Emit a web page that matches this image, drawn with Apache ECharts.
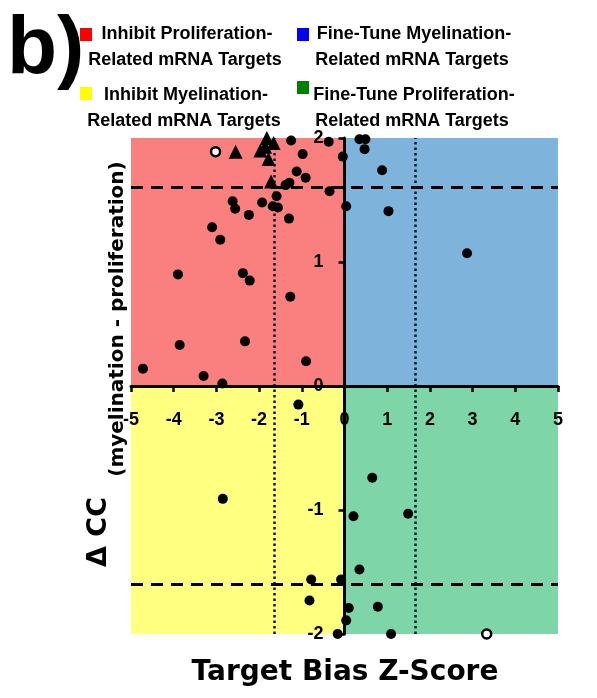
<!DOCTYPE html>
<html>
<head>
<meta charset="utf-8">
<script src="https://cdn.jsdelivr.net/npm/echarts@6/dist/echarts.min.js"></script>
<style>
  html, body { margin: 0; padding: 0; background: #ffffff; }
  #chart { width: 597px; height: 698px; }
</style>
</head>
<body>
<div id="chart"></div>
<script>
// Target bias Z-score (x) versus change in correlation coefficient (y)
const filledTargets = [
  [-1.25, 1.98], [-0.37, 1.97], [-0.04, 1.85], [-0.98, 1.87], [-1.12, 1.73],
  [-0.91, 1.68], [-1.38, 1.62], [-1.29, 1.64], [-0.35, 1.57], [-1.59, 1.53],
  [-1.93, 1.48], [-2.62, 1.49], [-2.56, 1.43], [-1.68, 1.45], [-1.56, 1.44],
  [-2.24, 1.38], [-1.30, 1.35], [-3.10, 1.28], [-2.91, 1.18], [-3.90, 0.90],
  [-2.38, 0.91], [-2.22, 0.85], [-1.27, 0.72], [-3.86, 0.33], [-2.33, 0.36],
  [-0.90, 0.20], [-4.72, 0.14], [-3.30, 0.08], [-2.86, 0.02],
  [0.35, 1.99], [0.49, 1.99], [0.47, 1.91], [0.88, 1.74], [0.04, 1.45],
  [1.03, 1.41], [2.87, 1.07],
  [-1.08, -0.15], [-2.85, -0.91], [-0.78, -1.56], [-0.82, -1.73], [-0.08, -1.56],
  [-0.16, -2.0],
  [0.65, -0.74], [0.21, -1.05], [1.49, -1.03], [0.35, -1.48], [0.10, -1.79],
  [0.78, -1.78], [0.04, -1.89], [1.09, -2.0]
];
const triangleTargets = [
  [-2.55, 1.89], [-1.97, 1.90], [-1.82, 2.0], [-1.66, 1.96], [-1.86, 1.93],
  [-1.78, 1.83], [-1.72, 1.65]
];
const openTargets = [[-3.02, 1.89], [3.33, -2.0]];

const xTicks = [-5, -4, -3, -2, -1, 0, 1, 2, 3, 4, 5];
const yTicks = [-2, -1, 0, 1, 2];
const ccThreshold = 1.6;
const zThreshold = 1.645;

const legendItems = [
  { line1: 'Inhibit Proliferation-', line2: 'Related mRNA Targets', swatch: '#ff0000' },
  { line1: 'Fine-Tune Myelination-', line2: 'Related mRNA Targets', swatch: '#0000ff' },
  { line1: 'Inhibit Myelination-', line2: 'Related mRNA Targets', swatch: '#ffff00' },
  { line1: 'Fine-Tune Proliferation-', line2: 'Related mRNA Targets', swatch: '#008000' }
];
const quadrantColors = ['#f9807e', '#7eb3dc', '#ffff80', '#7ed6a8'];

const chart = echarts.init(document.getElementById('chart'), null, { renderer: 'canvas' });

const tickFont = {
  fontFamily: '"Liberation Sans", Arial, sans-serif', fontWeight: 'bold', fontSize: 18,
  color: '#000', opacity: 1, textBorderWidth: 0, textShadowBlur: 0
};

// legend block: swatch + two centred lines per entry
const legendLayout = [
  { cx: 185, y1: 34, y2: 60, sx: 80, sy: 28 },
  { cx: 412, y1: 34, y2: 60, sx: 297, sy: 28 },
  { cx: 184, y1: 95, y2: 121, sx: 80, sy: 87 },
  { cx: 412, y1: 95, y2: 121, sx: 297, sy: 81 }
];
const legendGraphics = [];
legendItems.forEach((item, i) => {
  const L = legendLayout[i];
  legendGraphics.push({ type: 'rect', left: L.sx, top: L.sy, shape: { width: 12, height: 13 }, style: { fill: item.swatch } });
  legendGraphics.push({ type: 'text', x: L.cx + 2, y: L.y1, style: { text: item.line1, font: 'bold 18px "Liberation Sans", Arial, sans-serif', fill: '#000', textAlign: 'center', textVerticalAlign: 'middle' } });
  legendGraphics.push({ type: 'text', x: L.cx, y: L.y2, style: { text: item.line2, font: 'bold 18px "Liberation Sans", Arial, sans-serif', fill: '#000', textAlign: 'center', textVerticalAlign: 'middle' } });
});

const option = {
  backgroundColor: '#ffffff',
  animation: false,
  grid: { left: 131, right: 39, top: 138, bottom: 64 },
  xAxis: {
    type: 'value', min: -5, max: 5, interval: 1, z: 5,
    axisLine: { onZero: true, lineStyle: { color: '#000', width: 3 } },
    axisTick: { show: true, length: 6, lineStyle: { color: '#000', width: 2.5 } },
    axisLabel: { show: false },
    splitLine: { show: false }
  },
  yAxis: {
    type: 'value', min: -2, max: 2, interval: 1, z: 5,
    axisLine: { onZero: true, lineStyle: { color: '#000', width: 3 } },
    axisTick: { show: true, length: 6, lineStyle: { color: '#000', width: 2.5 } },
    axisLabel: { show: false },
    splitLine: { show: false }
  },
  graphic: [
    { type: 'text', x: 7, y: 50, style: { text: 'b)', font: 'bold 82px "Liberation Sans", Arial, sans-serif', fill: '#000', textVerticalAlign: 'middle' } },
    ...legendGraphics,
    { type: 'text', x: 99, y: 532, rotation: Math.PI / 2, style: { text: '\u0394 CC', font: 'bold 27px "DejaVu Sans", sans-serif', fill: '#000', textAlign: 'center', textVerticalAlign: 'middle' } },
    { type: 'text', x: 118, y: 319, rotation: Math.PI / 2, style: { text: '(myelination - proliferation)', font: 'bold 20px "DejaVu Sans", sans-serif', fill: '#000', textAlign: 'center', textVerticalAlign: 'middle' } },
    { type: 'text', x: 345, y: 673, style: { text: 'Target Bias Z-Score', font: 'bold 28px "DejaVu Sans", sans-serif', fill: '#000', textAlign: 'center', textVerticalAlign: 'middle' } }
  ],
  series: [
    {
      // quadrant backgrounds
      type: 'scatter', data: [], z: 1, silent: true,
      markArea: {
        silent: true,
        data: [
          [{ xAxis: -5, yAxis: 0, itemStyle: { color: quadrantColors[0], opacity: 1 } }, { xAxis: 0, yAxis: 2 }],
          [{ xAxis: 0, yAxis: 0, itemStyle: { color: quadrantColors[1], opacity: 1 } }, { xAxis: 5, yAxis: 2 }],
          [{ xAxis: -5, yAxis: -2, itemStyle: { color: quadrantColors[2], opacity: 1 } }, { xAxis: 0, yAxis: 0 }],
          [{ xAxis: 0, yAxis: -2, itemStyle: { color: quadrantColors[3], opacity: 1 } }, { xAxis: 5, yAxis: 0 }]
        ]
      }
    },
    {
      // significance thresholds
      type: 'scatter', data: [], z: 2, silent: true,
      markLine: {
        silent: true, symbol: 'none', label: { show: false },
        data: [
          { yAxis: ccThreshold, lineStyle: { type: [12, 8], width: 3, color: '#000', opacity: 1 } },
          { yAxis: -ccThreshold, lineStyle: { type: [12, 8], width: 3, color: '#000', opacity: 1 } },
          { xAxis: -zThreshold, lineStyle: { type: [2.5, 3], width: 2.5, color: '#0c1628', opacity: 1 } },
          { xAxis: zThreshold, lineStyle: { type: [2.5, 3], width: 2.5, color: '#0c1628', opacity: 1 } }
        ]
      }
    },
    {
      // tick labels along the x axis line (y = 0)
      type: 'scatter', z: 8, silent: true, clip: false,
      data: xTicks.map(v => [v, 0]), symbolSize: 0,
      itemStyle: { opacity: 1 },
      label: Object.assign({ show: true, position: 'inside', offset: [0, 34], formatter: p => String(p.value[0]) }, tickFont)
    },
    {
      // tick labels along the y axis line (x = 0)
      type: 'scatter', z: 8, silent: true, clip: false,
      data: yTicks.map(v => [0, v]), symbolSize: 0,
      itemStyle: { opacity: 1 },
      label: Object.assign({ show: true, position: 'left', distance: 21, formatter: p => String(p.value[1]) }, tickFont)
    },
    {
      type: 'scatter', data: filledTargets, z: 10, clip: false,
      symbol: 'circle', symbolSize: 10,
      itemStyle: { color: '#000', opacity: 1 }
    },
    {
      type: 'scatter', data: triangleTargets, z: 10, clip: false,
      symbol: 'triangle', symbolSize: 14,
      itemStyle: { color: '#000', opacity: 1 }
    },
    {
      type: 'scatter', data: openTargets, z: 10, clip: false,
      symbol: 'circle', symbolSize: 9,
      itemStyle: { color: '#ffffff', borderColor: '#000', borderWidth: 2.5, opacity: 1 }
    }
  ]
};
chart.setOption(option);
</script>
</body>
</html>
